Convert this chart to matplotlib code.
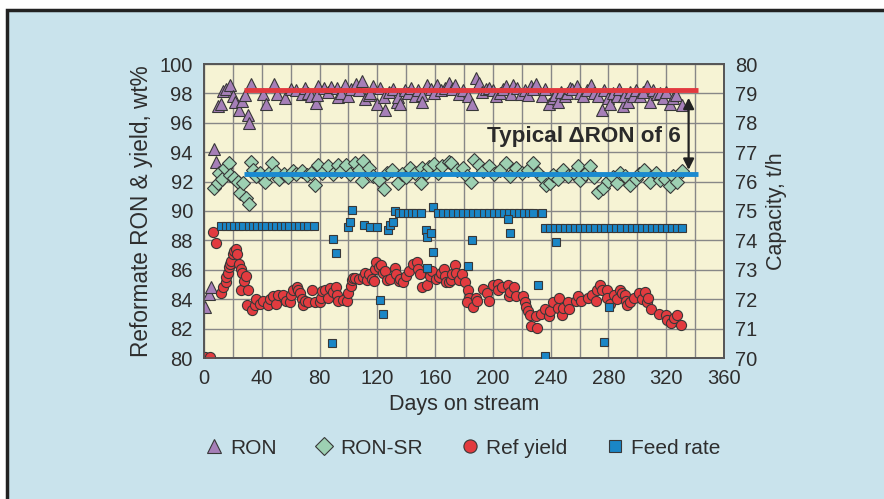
import matplotlib
matplotlib.use("Agg")
import matplotlib.pyplot as plt
from matplotlib.lines import Line2D
from matplotlib.patches import Rectangle
from matplotlib.ticker import MultipleLocator

plt.rcParams['font.family'] = ['Liberation Sans', 'DejaVu Sans']

# --- data ---
ron_days = [0.7, 3.7, 4.9, 7.2, 8.4, 9.5, 11.8, 13, 14.9, 18.1, 20, 21.6, 23.9, 26.5, 28.1,
            30.4, 30.9, 32.7, 40.9, 43.2, 48.5, 50.8, 56.4, 60, 63.4, 67.5, 69.9, 72, 74,
            77.3, 78, 79.2, 83.3, 86, 88, 91.9, 93.1, 95, 97.3, 99.6, 102, 105.2, 107, 109.3,
            111.2, 114, 115.1, 117, 119.8, 122.1, 124.4, 125.1, 128, 130.9, 133.7, 134.4, 136,
            139, 141, 143, 146, 148, 150.6, 151.1, 154.6, 157, 159, 161.6, 164, 167, 169.7,
            172, 174, 176.7, 179, 182.5, 185.5, 188.3, 190.6, 192.4, 195, 197.5, 200, 202.2,
            205, 207, 209.1, 212.6, 214, 216.5, 219.6, 222, 224, 226.5, 228, 230, 234.2, 236,
            238.8, 241.6, 243, 245.1, 247, 249.7, 251, 253.2, 255, 258.5, 260, 262.5, 265,
            267.6, 270, 272.9, 275.3, 277, 279.9, 281.1, 283, 285.7, 287, 289.8, 291, 293.8,
            295, 297.2, 299, 301.9, 304, 307, 308.8, 311, 313.4, 316, 318.1, 320, 322.7, 325,
            327, 330.8]
ron = [83.45, 84.36, 84.8, 94.2, 93.3, 97.15, 97.26, 98.17, 98.33, 98.6, 97.8, 97.4, 96.9, 97.5, 97.9,
       96.5, 96.0, 98.63, 97.95, 97.3, 98.63, 97.95, 97.72, 98.3, 98.22, 97.95, 98.4, 98.0, 97.8,
       97.38, 97.9, 98.5, 98.4, 98.1, 98.45, 98.4, 97.76, 98.0, 98.55, 97.8, 98.3, 98.63, 98.2, 98.86,
       97.65, 97.9, 98.0, 98.5, 97.26, 98.4, 97.76, 96.9, 98.1, 98.33, 97.4, 97.76, 97.3,
       98.2, 98.0, 98.4, 97.8, 98.2, 97.9, 97.4, 98.55, 98.3, 98.0, 98.55, 98.2, 98.4, 98.7,
       98.3, 98.6, 97.95, 98.2, 97.83, 97.3, 99.04, 98.74, 98.1, 98.3, 98.4, 98.2, 97.83,
       98.0, 98.3, 98.5, 97.95, 98.6, 98.4, 97.95, 98.2, 97.9, 98.5, 98.3, 98.67, 97.83, 98.3,
       97.26, 97.72, 97.9, 97.4, 98.1, 97.83, 98.0, 98.4, 98.3, 98.5, 98.0, 97.83, 98.2,
       98.57, 98.0, 97.83, 96.9, 98.2, 97.72, 97.3, 98.0, 97.83, 98.3, 97.13, 97.8, 97.4,
       98.1, 97.83, 98.2, 97.83, 98.1, 98.5, 97.4, 98.2, 97.95, 98.0, 97.72, 98.1, 97.3, 97.67,
       97.9, 97.2]

sr_days = [7.2, 9.5, 10.7, 12.3, 14.2, 17.6, 18.3, 20.7, 23.4, 24.6, 26.9, 29.3, 30.9, 32.3,
           33.9, 36, 38.5, 42.5, 45, 47.1, 50.1, 51.8, 55.5, 58, 61.8, 64, 67.5, 71, 74, 76.8,
           78.7, 82, 86.1, 89, 92.6, 95, 98.2, 101, 104.7, 107, 109.3, 109.8, 114, 117, 120.9,
           124.4, 127, 130.2, 134.4, 137, 140, 142.9, 145.9, 149.9, 151.1, 154, 156, 159.2,
           162, 165, 169.7, 170.8, 175, 179, 182, 184.8, 187.1, 190.6, 193, 197.5, 201, 205,
           209.1, 212, 216.1, 220, 224, 227.7, 231, 234.6, 237, 239.3, 241.6, 245, 248.6, 252,
           256, 259, 260.2, 264, 267.1, 270, 272.9, 276.4, 279.9, 283, 285.7, 288, 291.6,
           295.1, 299, 301, 304.4, 309, 313, 316, 319, 322.9, 325, 327.6, 330.8]
ron_sr = [91.55, 91.9, 92.58, 92.2, 92.93, 93.27, 92.47, 92.24, 92.0, 91.2, 91.9, 90.9, 90.5, 93.3,
          92.8, 92.4, 92.58, 91.97, 92.6, 93.27, 92.63, 92.2, 92.5, 92.3, 92.7, 92.5, 92.7, 92.47, 92.6, 91.78,
          93.15, 92.6, 93.04, 92.5, 93.1, 92.7, 93.15, 92.5, 93.27, 92.8, 92.05, 93.43, 92.9, 92.4, 92.1,
          91.5, 92.6, 92.8, 91.9, 92.5, 92.3, 92.9, 92.58, 91.9, 92.9, 92.6, 93.0, 93.2,
          92.6, 93.04, 93.3, 93.27, 92.8, 92.93, 92.4, 92.0, 93.5, 93.15, 92.7, 93.04, 92.5, 92.8,
          93.27, 92.4, 92.93, 92.6, 92.8, 93.27, 92.6, 92.24, 91.8, 91.9, 92.47, 92.2, 92.8, 92.4,
          92.6, 93.04, 92.13, 92.5, 93.04, 92.3, 91.3, 91.55, 92.05, 92.3, 91.9, 92.6, 92.35,
          91.78, 92.2, 92.5, 92.8, 92.0, 92.6, 92.1, 92.2, 91.67, 92.4, 92.0, 92.7]

yield_days = [1, 4, 6, 8, 12, 13.4, 14.9, 15.5, 16.5, 17.3,
              18.1, 19, 20.2, 21.1, 22, 23, 24.1, 25.3, 25.8, 26.2,
              27.6, 29.3, 30.4, 29.9, 33.2, 35, 36.2, 38.5, 40.9, 44.3,
              46, 47.8, 50.1, 51.3, 54.8, 57.1, 59.4, 59.9, 61.3, 64.1,
              65.2, 66.4, 68, 68.3, 69.9, 72.2, 74.5, 76.8, 80.3, 81,
              81.5, 83.8, 85.7, 87.3, 89.6, 91.5, 92, 93.1, 95.9, 98.9,
              100, 101.7, 102.4, 103.1, 104.7, 107, 109.8, 111.2, 112.8, 114,
              116.3, 117.5, 118.6, 119.3, 120.9, 122.8, 123.9, 125.1, 126.7, 129,
              132, 132.9, 134.8, 135.9, 137.8, 139.5, 141.8, 144.5, 147.2, 148.3,
              149.3, 151.1, 154.6, 156.2, 158.1, 160.4, 162.7, 163.9, 166.2, 166.9,
              167.5, 169.7, 171, 172, 174, 174.5, 176.8, 178.4, 180.7, 182.6,
              183.2, 182.1, 186.4, 188.2, 188.9, 192.9, 195.7, 197, 199.9, 203.3,
              203.8, 206.4, 210.3, 211, 211.5, 214.9, 216.1, 220.7, 221.9, 223,
              224.2, 225.4, 226.5, 230, 230.7, 233.5, 235.8, 238.9, 239.8, 241.7,
              245.1, 245.8, 247.9, 248.6, 252.1, 252.8, 257.5, 259.1, 260.9, 266,
              268.4, 271.4, 271.9, 274.2, 275.4, 278.8, 279.3, 281.1, 283.5, 285.8,
              288.1, 289.3, 291.6, 291.9, 292.8, 295.1, 297.5, 300.9, 303.3, 305.1,
              306.7, 307.2, 309.5, 314.9, 319.5, 320.7, 323, 325.4, 327.7, 330]
ref_yield = [80.1, 80.1, 88.6, 87.8, 84.4, 84.8, 85.2, 85.5, 85.8, 86.2,
             86.4, 86.6, 87.1, 87.3, 87.4, 87.1, 86.4, 86.07, 84.6, 85.78,
             85.27, 85.55, 84.6, 83.63, 83.27, 83.6, 84.0, 83.68, 83.9, 83.63,
             84.0, 84.2, 83.7, 84.3, 84.3, 83.9, 83.8, 84.3, 84.6, 84.8,
             84.6, 84.4, 84.0, 83.6, 83.85, 83.8, 84.6, 83.8, 83.8, 84.1,
             84.57, 84.6, 84.1, 84.75, 84.5, 84.8, 84.3, 83.9, 83.95, 83.9,
             84.4, 84.9, 85.3, 85.46, 85.46, 85.4, 85.5, 85.8, 85.3, 85.7,
             85.4, 85.27, 86.07, 86.5, 86.2, 86.3, 85.8, 85.9, 85.3, 85.4,
             86.1, 85.7, 85.27, 85.4, 85.2, 85.55, 85.9, 86.4, 86.5, 86.07,
             85.7, 84.8, 85.0, 85.55, 85.9, 85.4, 85.5, 85.8, 86.07, 85.6,
             85.2, 85.2, 85.3, 85.7, 86.3, 85.8, 85.3, 85.7, 85.2, 84.6,
             84.1, 83.8, 83.5, 84.1, 83.9, 84.7, 84.4, 83.9, 85.0, 85.05,
             84.6, 84.8, 85.0, 84.2, 84.5, 84.8, 84.2, 84.2, 83.8, 83.5,
             83.2, 82.9, 82.2, 82.85, 82.05, 83.0, 83.3, 82.85, 83.2, 83.8,
             83.4, 84.1, 82.9, 83.4, 83.8, 83.3, 83.9, 84.2, 83.9, 84.1,
             84.3, 83.9, 84.6, 85.0, 84.6, 84.6, 84.1, 83.7, 84.3, 84.0,
             84.6, 84.4, 84.3, 83.9, 83.6, 83.8, 84.1, 84.4, 84.0, 84.5,
             83.8, 84.1, 83.3, 83.0, 82.9, 82.6, 82.4, 82.7, 82.95, 82.25]

feed_days = [12, 15, 18, 21, 24, 27, 31, 34, 37, 40,
             43, 47, 50, 53, 56, 59, 63, 66, 69, 72,
             76, 88.4, 89.6, 91.5, 99.6, 101.2, 102.8, 110.9, 115.1, 119.8,
             121.6, 123.7, 127.4, 129.1, 130.7, 131.9, 135, 138, 141, 144,
             147, 150, 153.4, 154.1, 154.6, 156.9, 158.5, 158.8, 162, 165.5,
             169, 172.5, 176, 179.5, 183, 186.5, 190, 193.5, 197, 200.5,
             204, 207.5, 211, 214.5, 218, 221.5, 225, 227.5, 183.1, 185.4,
             210.3, 211.5, 231.2, 234.2, 235.8, 243.5, 276.9, 280.6, 236, 239.5,
             243, 246.5, 250, 253.5, 257, 260.5, 264, 267.5, 271, 274.5,
             277.5, 282, 285.5, 289, 292.5, 296, 299.5, 303, 306.5, 310,
             313.5, 317, 320.5, 324, 327.5, 331]
feed_rate = [74.5, 74.5, 74.5, 74.5, 74.5, 74.5, 74.5, 74.5, 74.5, 74.5,
             74.5, 74.5, 74.5, 74.5, 74.5, 74.5, 74.5, 74.5, 74.5, 74.5,
             74.5, 70.52, 74.06, 73.58, 74.46, 74.63, 75.03, 74.52, 74.44, 74.44,
             71.97, 71.5, 74.35, 74.52, 74.63, 75.0, 74.94, 74.94, 74.94, 74.94,
             74.94, 74.94, 74.35, 73.06, 74.12, 74.24, 75.12, 73.6, 74.94, 74.94,
             74.94, 74.94, 74.94, 74.94, 74.94, 74.94, 74.94, 74.94, 74.94, 74.94,
             74.94, 74.94, 74.94, 74.94, 74.94, 74.94, 74.94, 74.94, 73.12, 74.03,
             74.73, 74.24, 72.49, 74.94, 70.07, 73.95, 70.56, 71.72, 74.43, 74.43,
             74.43, 74.43, 74.43, 74.43, 74.43, 74.43, 74.43, 74.43, 74.43, 74.43,
             74.43, 74.43, 74.43, 74.43, 74.43, 74.43, 74.43, 74.43, 74.43, 74.43,
             74.43, 74.43, 74.43, 74.43, 74.43, 74.43]

# typical levels
ron_level = 98.2
sr_level = 92.5
level_days = [28, 342]

BG = '#c9e3ec'
FACE = '#f6f3d4'
TXT = '#2e2e2e'
EDGE = '#383838'

fig = plt.figure(figsize=(8.84, 4.99), dpi=100, facecolor='white')
fig.patches.append(Rectangle((7 / 884, -0.1), 1.2, 1.1 - 10 / 499, transform=fig.transFigure,
                             facecolor=BG, edgecolor='#222222', lw=2.5, zorder=-10))

ax = fig.add_axes([204 / 884, 1 - 358 / 499, 520 / 884, 294 / 499])
ax.set_facecolor(FACE)
ax.set_xlim(0, 360)
ax.set_ylim(80, 100)
ax.xaxis.set_major_locator(MultipleLocator(40))
ax.xaxis.set_minor_locator(MultipleLocator(20))
ax.yaxis.set_major_locator(MultipleLocator(2))
ax.grid(True, which='both', color='#878787', lw=1.0)
ax.set_axisbelow(True)
ax.tick_params(which='both', length=0, labelsize=14.5, colors=TXT)
ax.tick_params(axis='x', pad=8)
ax.tick_params(axis='y', pad=8)
for s in ax.spines.values():
    s.set_color('#555555')
    s.set_linewidth(1.2)

ax.plot(ron_days, ron, ls='none', marker='^', ms=8.8, mfc='#a67fb8', mec=EDGE, mew=0.8, zorder=3)
ax.plot(sr_days, ron_sr, ls='none', marker='D', ms=7, mfc='#9dd0b2', mec=EDGE, mew=0.8, zorder=3)
ax.plot(yield_days, ref_yield, ls='none', marker='o', ms=7.3, mfc='#e23b3f', mec=EDGE, mew=0.8, zorder=3)
ax.plot(level_days, [ron_level, ron_level], color='#e2393f', lw=3.5, zorder=4, solid_capstyle='butt')
ax.plot(level_days, [sr_level, sr_level], color='#1a8ad0', lw=3.5, zorder=4, solid_capstyle='butt')

ax.annotate('', xy=(335.5, ron_level - 0.5), xytext=(335.5, sr_level + 0.3),
            arrowprops=dict(arrowstyle='<|-|>', color='#222222', lw=1.6, mutation_scale=16,
                            shrinkA=0, shrinkB=0), zorder=5)
ax.text(330, 95.1, 'Typical \u0394RON of 6', ha='right', va='center', fontsize=16.2,
        fontweight='bold', color='#2a2a2a', zorder=5)

ax.set_xlabel('Days on stream', fontsize=15.5, color=TXT, labelpad=4)
ax.set_ylabel('Reformate RON & yield, wt%', fontsize=16.3, color=TXT, labelpad=5)

ax2 = ax.twinx()
ax2.set_ylim(70, 80)
ax2.yaxis.set_major_locator(MultipleLocator(1))
ax2.tick_params(length=0, labelsize=14.5, colors=TXT, pad=8)
for s in ax2.spines.values():
    s.set_color('#555555')
    s.set_linewidth(1.2)
ax2.plot(feed_days, feed_rate, ls='none', marker='s', ms=5.6, mfc='#1a86c6', mec=EDGE, mew=0.8, zorder=3)
ax2.set_ylabel('Capacity, t/h', fontsize=15.5, color=TXT, labelpad=6)

handles = [
    Line2D([], [], ls='none', marker='^', ms=10, mfc='#a67fb8', mec=EDGE, mew=0.8),
    Line2D([], [], ls='none', marker='D', ms=9, mfc='#9dd0b2', mec=EDGE, mew=0.8),
    Line2D([], [], ls='none', marker='o', ms=9.5, mfc='#e23b3f', mec=EDGE, mew=0.8),
    Line2D([], [], ls='none', marker='s', ms=9, mfc='#1a86c6', mec=EDGE, mew=0.8),
]
leg = fig.legend(handles, ['RON', 'RON-SR', 'Ref yield', 'Feed rate'], loc='center',
                 bbox_to_anchor=(462 / 884, 1 - 448 / 499), ncol=4, frameon=False,
                 fontsize=15, handlelength=1.0, handletextpad=0.25, columnspacing=1.8)
for t in leg.get_texts():
    t.set_color(TXT)

fig.savefig('out.png', dpi=100, facecolor='white')
